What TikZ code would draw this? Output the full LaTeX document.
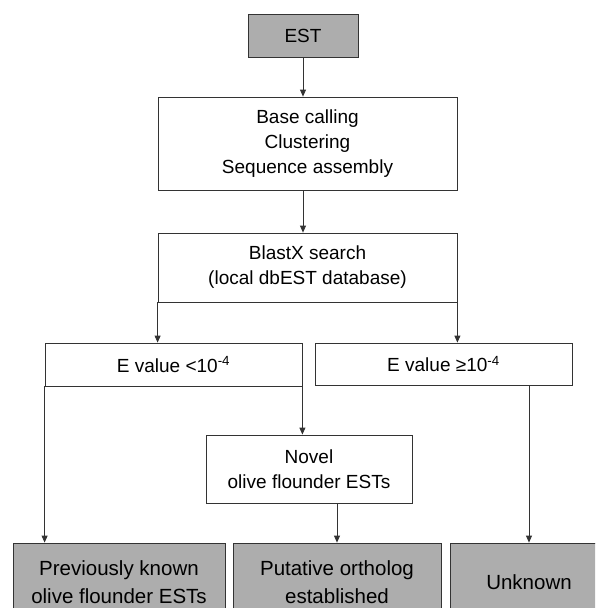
\documentclass[tikz,border=0pt]{standalone}
\usepackage{fontspec}
\setmainfont{Liberation Sans}
\usetikzlibrary{arrows.meta}
\tikzset{
  blk/.style={
    rectangle, draw=black!80, line width=0.8pt,
    align=center, fill=white, inner sep=0pt,
    font=\fontsize{19}{25}\selectfont
  },
  gblk/.style={
    blk, fill=black!32,
    font=\fontsize{20.5}{28}\selectfont
  },
  arr/.style = {-{Stealth[length=7pt, width=6pt, inset=0pt]}, line width=0.8pt, draw=black!80},
}

\begin{document}
\begin{tikzpicture}[x=1pt, y=-1pt]
\clip (0,0) rectangle (595,608);

%% ── Row 1: EST ───────────────────────────────────────────────────────────────
\node[gblk, font=\fontsize{19}{25}\selectfont, minimum width=110pt, minimum height=43pt] (EST) at (303, 35.5) {EST};

%% ── Row 2: processing ────────────────────────────────────────────────────────
\node[blk, minimum width=299pt, minimum height=93pt] (PROC) at (307.5, 143.5)
  {Base calling\\Clustering\\Sequence assembly};

%% ── Row 3: BlastX search ─────────────────────────────────────────────────────
\node[blk, minimum width=299pt, minimum height=69pt] (BLAST) at (307.5, 267.5)
  {BlastX search\\(local dbEST database)};

%% ── Row 4: E value low | E value high ────────────────────────────────────────
\node[blk, minimum width=257pt, minimum height=43pt] (ELOW)  at (173.5, 364.5) {E value <10\textsuperscript{-4}};
\node[blk, minimum width=257pt, minimum height=42pt] (EHIGH) at (443.5, 364.0) {E value ≥10\textsuperscript{-4}};

%% ── Row 5: Novel ─────────────────────────────────────────────────────────────
\node[blk, minimum width=206pt, minimum height=68pt] (NOVEL) at (309, 469)
  {Novel\\olive flounder ESTs};

%% ── Row 6: results ───────────────────────────────────────────────────────────
\node[gblk, minimum width=212pt, minimum height=78pt] (PREV) at (119, 582)
  {Previously known\\olive flounder ESTs};
\node[gblk, minimum width=208pt, minimum height=78pt] (ORTH) at (337, 582)
  {Putative ortholog\\established};
\node[gblk, minimum width=158pt, minimum height=78pt] (UNKN) at (529, 582)
  {Unknown};

%% ── straight connectors ──────────────────────────────────────────────────────
\draw[arr] (EST.south) -- (EST.south |- PROC.north);
\draw[arr] (EST.south |- PROC.south) -- (EST.south |- BLAST.north);

%% ── BlastX → E value boxes (from the corners) ───────────────────────────────
\draw[arr] (BLAST.south west) -- (BLAST.south west |- ELOW.north);
\draw[arr] (BLAST.south east) -- (BLAST.south east |- EHIGH.north);

%% ── E value < → known | novel ───────────────────────────────────────────────
\draw[arr] (ELOW.south west) -- (ELOW.south west |- PREV.north);
\draw[arr] (ELOW.south east) -- (ELOW.south east |- NOVEL.north);

%% ── E value ≥ → unknown, novel → ortholog ────────────────────────────────────
\draw[arr] (UNKN.north |- EHIGH.south) -- (UNKN.north);
\draw[arr] (ORTH.north |- NOVEL.south) -- (ORTH.north);

\end{tikzpicture}
\end{document}
